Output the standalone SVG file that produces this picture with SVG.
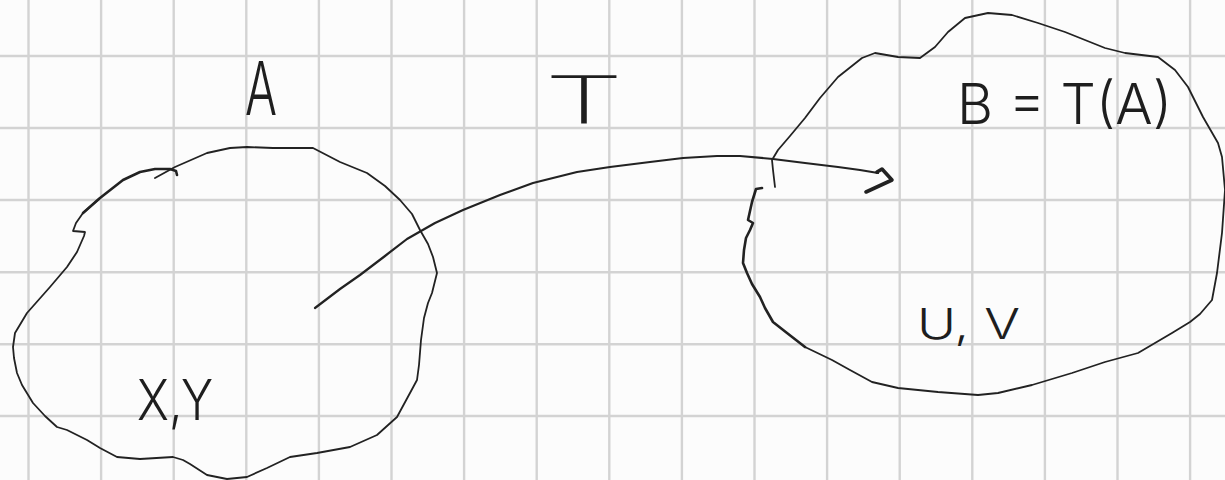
<svg xmlns="http://www.w3.org/2000/svg" width="1225" height="480" viewBox="0 0 1225 480">
<style>
.grid line{stroke:#d3d3d3;stroke-width:2.4}
.ink{fill:none;stroke:#222;stroke-linecap:round;stroke-linejoin:round}
.thin{stroke-width:1.8}
.thick{stroke-width:3.6}
.lbl{font-family:Inter,"Liberation Sans",sans-serif;font-weight:300;fill:#1e1e1e}
.lt{font-family:"DejaVu Sans ExtraLight","DejaVu Sans",sans-serif;font-weight:200;fill:#1e1e1e}
</style>
<rect width="1225" height="480" fill="#fcfcfc"/>
<g class="grid">
<line x1="28.5" y1="0" x2="28.5" y2="480"/>
<line x1="101.1" y1="0" x2="101.1" y2="480"/>
<line x1="173.7" y1="0" x2="173.7" y2="480"/>
<line x1="246.3" y1="0" x2="246.3" y2="480"/>
<line x1="318.9" y1="0" x2="318.9" y2="480"/>
<line x1="391.5" y1="0" x2="391.5" y2="480"/>
<line x1="464.1" y1="0" x2="464.1" y2="480"/>
<line x1="536.7" y1="0" x2="536.7" y2="480"/>
<line x1="609.3" y1="0" x2="609.3" y2="480"/>
<line x1="681.9" y1="0" x2="681.9" y2="480"/>
<line x1="754.5" y1="0" x2="754.5" y2="480"/>
<line x1="827.1" y1="0" x2="827.1" y2="480"/>
<line x1="899.7" y1="0" x2="899.7" y2="480"/>
<line x1="972.3" y1="0" x2="972.3" y2="480"/>
<line x1="1044.9" y1="0" x2="1044.9" y2="480"/>
<line x1="1117.5" y1="0" x2="1117.5" y2="480"/>
<line x1="1190.1" y1="0" x2="1190.1" y2="480"/>
<line x1="0" y1="56" x2="1225" y2="56"/>
<line x1="0" y1="128" x2="1225" y2="128"/>
<line x1="0" y1="200" x2="1225" y2="200"/>
<line x1="0" y1="272.3" x2="1225" y2="272.3"/>
<line x1="0" y1="344.3" x2="1225" y2="344.3"/>
<line x1="0" y1="416" x2="1225" y2="416"/>
</g>
<g id="setA">
<path class="ink thin" d="M155,178 L175,167 L207,153 L230,148 L247,147 L273,148 L313,148 L340,162 L367,173 L385,186 L400,200 L412,214 L420,230 L428,244 L433,257 L437,273 L432,293 L428,303 L424,318 L421,340 L419,365 L417,380 L410,393 L397,417 L377,435 L350,447 L317,453 L290,457 L267,468 L247,477 L227,479 L207,475 L190,464 L183,460 L173,457 L140,459 L117,457 L100,448 L87,440 L67,430 L57,427 L45,416 L33,403 L22,385 L17,373 L14,358 L13,347 L15,333 L27,313 L50,287 L67,267 L77,252 L84,236 L85,232 L73,231 L76,223 L83,213 L100,198"/>
<path class="ink" style="stroke-width:2.6" d="M83,213 L100,198 L123,180 L140,172 L155,169 L170,169 L176,171 L177,175"/>
<text class="lbl" x="245" y="115" font-size="74" textLength="32" lengthAdjust="spacingAndGlyphs">A</text>
<text class="lbl" x="137" y="420" font-size="56" textLength="76" lengthAdjust="spacingAndGlyphs">X,Y</text>
</g>
<g id="setB">
<path class="ink thin" d="M775,187 L773,170 L772,160 L778,150 L790,136 L805,118 L820,98 L838,77 L862,58 L875,53 L898,57 L920,58 L935,47 L948,32 L965,18 L988,13 L1012,15 L1038,23 L1065,32 L1105,48 L1125,53 L1158,57 L1175,70 L1188,87 L1203,117 L1218,143 L1222,157 L1225,190 L1222,233 L1217,273 L1212,300 L1200,314 L1190,322 L1172,333 L1138,353 L1105,362 L1072,373 L1032,385 L998,393 L978,395 L938,392 L898,388 L872,382 L850,370 L832,360 L805,347"/>
<path class="ink" style="stroke-width:2.6" d="M805,347 L787,333 L773,322 L765,308 L760,297 L752,284 L747,273 L743,263 L744,250 L746,238 L750,230 L753,223 L748,220 L752,202 L756,189 L762,188"/>
<text class="lbl" x="957" y="124" font-size="56" textLength="215" lengthAdjust="spacingAndGlyphs">B = T(A)</text>
<text class="lbl" x="917" y="339" font-size="42" textLength="103" lengthAdjust="spacingAndGlyphs">U, V</text>
</g>
<g id="transformT">
<text class="lt" x="549" y="124" font-size="66" textLength="70" lengthAdjust="spacingAndGlyphs">T</text>
</g>
<g id="connectors">
<path class="ink" style="stroke-width:2.2" d="M315,308 L340,289 L360,275 L385,256 L407,239 L435,223 L463,210 L500,195 L533,183 L577,172 L610,167 L650,162 L683,158 L717,156 L740,156 L773,159 L805,163 L838,167 L860,170 L878,173"/>
<path class="ink thick" d="M877,172 L882,169 L892,180 L866,192"/>
</g>
</svg>
